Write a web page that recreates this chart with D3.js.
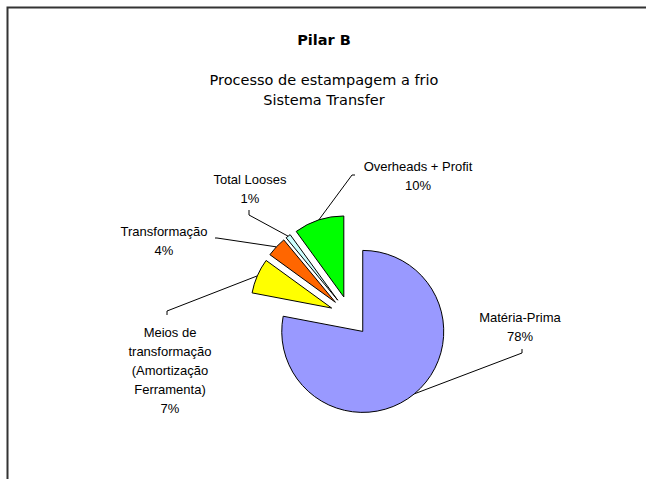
<!DOCTYPE html>
<html>
<head>
<meta charset="utf-8">
<script src="https://cdnjs.cloudflare.com/ajax/libs/d3/7.8.5/d3.min.js"></script>
<style>
  html, body { margin: 0; background: #fff; overflow: hidden; }
  svg { display: block; }
</style>
</head>
<body>
<div id="chart"></div>
<script>
// ---- data ----
var categories = ["Matéria-Prima", "Meios de transformação (Amortização Ferramenta)", "Transformação", "Total Looses", "Overheads + Profit"];
var labelLines = [["Matéria-Prima"], ["Meios de", "transformação", "(Amortização", "Ferramenta)"], ["Transformação"], ["Total Looses"], ["Overheads + Profit"]];
var values = [78, 7, 4, 1, 10];
var sliceColors = ["#9999FF", "#FFFF00", "#FF6600", "#CCFFFF", "#00FF00"];

var title = "Pilar B";
var subtitle = ["Processo de estampagem a frio", "Sistema Transfer"];

// ---- layout ----
var W = 646, H = 479;
var CX = 350, CY = 316, R = 81, EXPLODE = 20;
var TITLE_X = 324;
var LINE_H = 19;
// label centre x / first baseline y, and the leader start + elbow
var labelLayout = [
  {x: 520, y: 322, lead: [[522, 349], [522, 353]]},
  {x: 170, y: 337, lead: [[167, 315], [167, 311]]},
  {x: 164, y: 236, lead: [[215, 238], [217, 238]]},
  {x: 250, y: 184, lead: [[249, 210], [249, 215]]},
  {x: 418, y: 171, lead: [[355, 175], [352, 175]]}
];

var svg = d3.select("#chart").append("svg")
  .attr("width", W)
  .attr("height", H);

// frame (only left and top edges fall inside the picture)
svg.append("rect")
  .attr("x", 7.5)
  .attr("y", 7.5)
  .attr("width", 800)
  .attr("height", 800)
  .style("fill", "none")
  .style("stroke", "#333")
  .style("stroke-width", 2);

// titles
svg.append("text")
  .text(title)
  .attr("x", TITLE_X)
  .attr("y", 45)
  .style("font-family", "'DejaVu Sans', Verdana, sans-serif")
  .style("font-weight", "bold")
  .style("font-size", "14.5px")
  .attr("text-anchor", "middle");

subtitle.forEach(function(s, i){
  svg.append("text")
    .text(s)
    .attr("x", TITLE_X)
    .attr("y", 85 + i*19.5)
    .style("font-family", "'DejaVu Sans', Verdana, sans-serif")
    .style("font-size", "14.5px")
    .attr("text-anchor", "middle");
});

// ---- pie ----
var pie = d3.pie().sort(null).value(function(d){return d;});
var arcs = pie(values);
var arcGen = d3.arc().innerRadius(0).outerRadius(R);

var gPie = svg.append("g").attr("transform", "translate(" + CX + "," + CY + ")");

function offsetOf(d, dist){
  var a = (d.startAngle + d.endAngle)/2;
  return [Math.sin(a)*dist, -Math.cos(a)*dist];
}

gPie.selectAll("path.slice")
  .data(arcs)
  .enter()
  .append("path")
  .attr("class", "slice")
  .attr("d", arcGen)
  .attr("transform", function(d){
    var o = offsetOf(d, EXPLODE);
    return "translate(" + o[0] + "," + o[1] + ")";
  })
  .style("fill", function(d, i){return sliceColors[i];})
  .style("stroke", "#000")
  .style("stroke-width", 1);

// leaders
arcs.forEach(function(d, i){
  var tip = offsetOf(d, EXPLODE + R);
  var pts = labelLayout[i].lead.concat([[CX + tip[0], CY + tip[1]]]);
  svg.append("path")
    .attr("d", d3.line()(pts))
    .style("fill", "none")
    .style("stroke", "#000")
    .style("stroke-width", 1);
});

// labels
arcs.forEach(function(d, i){
  var lines = labelLines[i].concat([values[i] + "%"]);
  var t = svg.append("text")
    .attr("text-anchor", "middle")
    .style("font-family", "'Liberation Sans', Arial, sans-serif")
    .style("font-size", "13px")
    .style("fill", "#000");
  lines.forEach(function(l, k){
    t.append("tspan")
      .attr("x", labelLayout[i].x)
      .attr("y", labelLayout[i].y + k*LINE_H)
      .text(l);
  });
});
</script>
</body>
</html>
